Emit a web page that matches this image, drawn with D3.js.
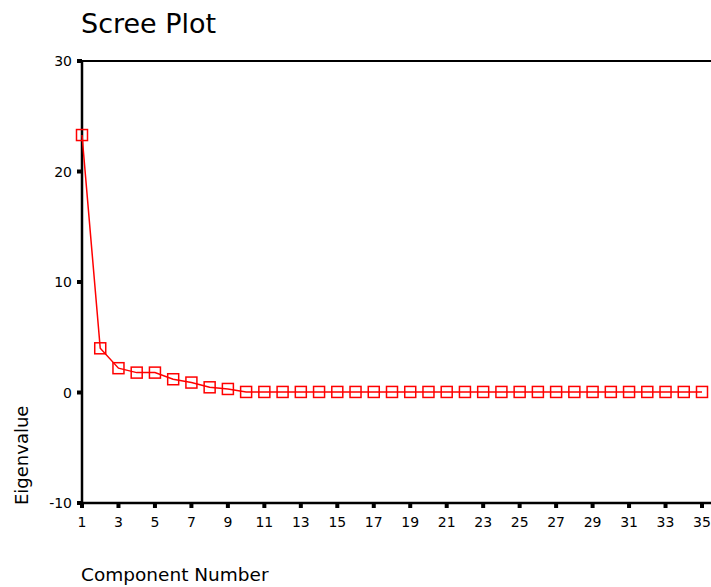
<!DOCTYPE html>
<html>
<head>
<meta charset="utf-8">
<script src="https://cdn.jsdelivr.net/npm/d3@7"></script>
<style>
  body { margin: 0; background: #fff; }
  text { font-family: "DejaVu Sans", sans-serif; fill: #000; }
</style>
</head>
<body>
<svg id="chart" width="711" height="587"></svg>
<script>
// component numbers and eigenvalues
const components = d3.range(1, 36);
const eigenvalues = [23.3, 4.0, 2.2, 1.8, 1.8, 1.2, 0.9, 0.47, 0.32,
  0.05, 0.05, 0.05, 0.05, 0.05, 0.05, 0.05, 0.05, 0.05, 0.05, 0.05,
  0.05, 0.05, 0.05, 0.05, 0.05, 0.05, 0.05, 0.05, 0.05, 0.05, 0.05,
  0.05, 0.05, 0.05, 0.05];
const yTicks = [-10, 0, 10, 20, 30];
const xTicks = d3.range(1, 36, 2);

const data = components.map((c, i) => ({ comp: c, value: eigenvalues[i] }));

const svg = d3.select("#chart");
const W = 711;

const x = d3.scaleLinear().domain([1, 35]).range([82, 702]);
const y = d3.scaleLinear().domain([-10, 30]).range([503, 61]);

// top frame line
svg.append("line")
  .attr("x1", x(1)).attr("x2", W)
  .attr("y1", y(30)).attr("y2", y(30))
  .attr("stroke", "#000").attr("stroke-width", 2);

// y axis
svg.append("line")
  .attr("x1", x(1)).attr("x2", x(1))
  .attr("y1", y(30) - 1).attr("y2", y(-10) + 1)
  .attr("stroke", "#000").attr("stroke-width", 2.5);

svg.selectAll(".ytick")
  .data(yTicks)
  .join("rect")
  .attr("x", x(1) - 5).attr("y", d => y(d) - 2)
  .attr("width", 5).attr("height", 4)
  .attr("fill", "#000");

svg.selectAll(".ylab")
  .data(yTicks)
  .join("text")
  .attr("x", x(1) - 10).attr("y", d => y(d) + 5)
  .attr("text-anchor", "end")
  .style("font-size", "14px")
  .text(d => d);

// x axis
svg.append("line")
  .attr("x1", x(1) - 1).attr("x2", W)
  .attr("y1", y(-10)).attr("y2", y(-10))
  .attr("stroke", "#000").attr("stroke-width", 2.5);

svg.selectAll(".xtick")
  .data(xTicks)
  .join("rect")
  .attr("x", d => x(d) - 2).attr("y", y(-10))
  .attr("width", 4).attr("height", 5)
  .attr("fill", "#000");

svg.selectAll(".xlab")
  .data(xTicks)
  .join("text")
  .attr("x", d => x(d)).attr("y", 527)
  .attr("text-anchor", "middle")
  .style("font-size", "14px")
  .text(d => d);

// series
svg.append("path")
  .datum(data)
  .attr("fill", "none")
  .attr("stroke", "#ff0000")
  .attr("stroke-width", 1.5)
  .attr("d", d3.line().x(d => x(d.comp)).y(d => y(d.value)));

svg.selectAll(".pt")
  .data(data)
  .join("rect")
  .attr("x", d => x(d.comp) - 5.5).attr("y", d => y(d.value) - 5.5)
  .attr("width", 11).attr("height", 11)
  .attr("fill", "none")
  .attr("stroke", "#ff0000")
  .attr("stroke-width", 1.5);

// titles
svg.append("text")
  .attr("x", 81).attr("y", 33)
  .style("font-size", "27px")
  .text("Scree Plot");

svg.append("text")
  .attr("x", 81).attr("y", 581)
  .style("font-size", "18.5px")
  .text("Component Number");

svg.append("text")
  .attr("transform", "translate(28,505)rotate(-90)")
  .attr("text-anchor", "start")
  .style("font-size", "18px")
  .text("Eigenvalue");
</script>
</body>
</html>
